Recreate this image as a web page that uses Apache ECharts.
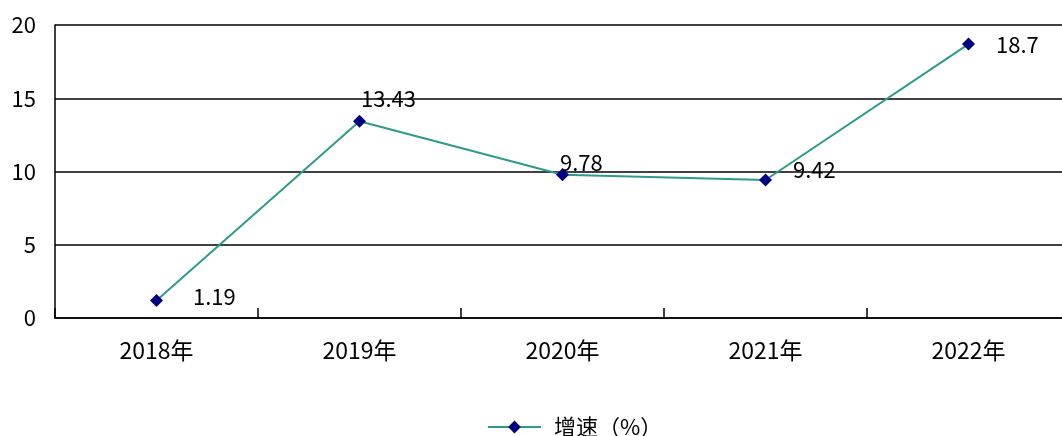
<!DOCTYPE html>
<html><head><meta charset="utf-8">
<script src="https://cdn.jsdelivr.net/npm/echarts@6/dist/echarts.min.js"></script>
<style>html,body{margin:0;padding:0;background:#fff;overflow:hidden;width:1062px;height:436px}#c{width:1072px;height:436px}</style>
</head><body><div id="c"></div>
<script>
const categories = ['2018年','2019年','2020年','2021年','2022年'];
const growth = [1.19, 13.43, 9.78, 9.42, 18.7];
const yTicks = [0, 5, 10, 15, 20];
const seriesName = '增速（%）';

// label placement style (offsets relative to default right position)
const labelOffsets = [[25,-4],[-10,-23],[-14,-12],[16,-10],[16,1]];

const font = "'Noto Sans CJK SC','DejaVu Sans',sans-serif";
const chart = echarts.init(document.getElementById('c'));
chart.setOption({
  animation:false,
  grid:{left:55,top:25,width:1015,height:293},
  legend:{top:411,left:482,itemWidth:53,itemHeight:16,itemGap:10,
    textStyle:{fontFamily:font,fontSize:22,color:'#000',padding:[0,0,0,8]},
    data:[seriesName]},
  xAxis:{type:'category',data:categories,boundaryGap:true,
    axisLine:{lineStyle:{color:'#000',width:1.5}},
    axisTick:{show:true,inside:true,length:10,lineStyle:{color:'#000',width:1.5}},
    axisLabel:{fontFamily:font,fontSize:23,color:'#000',margin:21}},
  yAxis:{type:'value',min:yTicks[0],max:yTicks[yTicks.length-1],interval:5,
    axisLine:{show:true,lineStyle:{color:'#000',width:1.5}},
    axisTick:{show:false},
    splitLine:{lineStyle:{color:'#000',width:1.5}},
    axisLabel:{fontFamily:font,fontSize:22,color:'#000',margin:19}},
  series:[{name:seriesName,type:'line',
    data:growth.map((v,i)=>({value:v,label:{offset:labelOffsets[i]}})),
    lineStyle:{color:'#2f9a8c',width:2},
    itemStyle:{color:'#000080'},
    symbol:'diamond',symbolSize:13,
    label:{show:true,position:'right',fontFamily:font,fontSize:22,color:'#000'}
  }]
});
</script></body></html>
